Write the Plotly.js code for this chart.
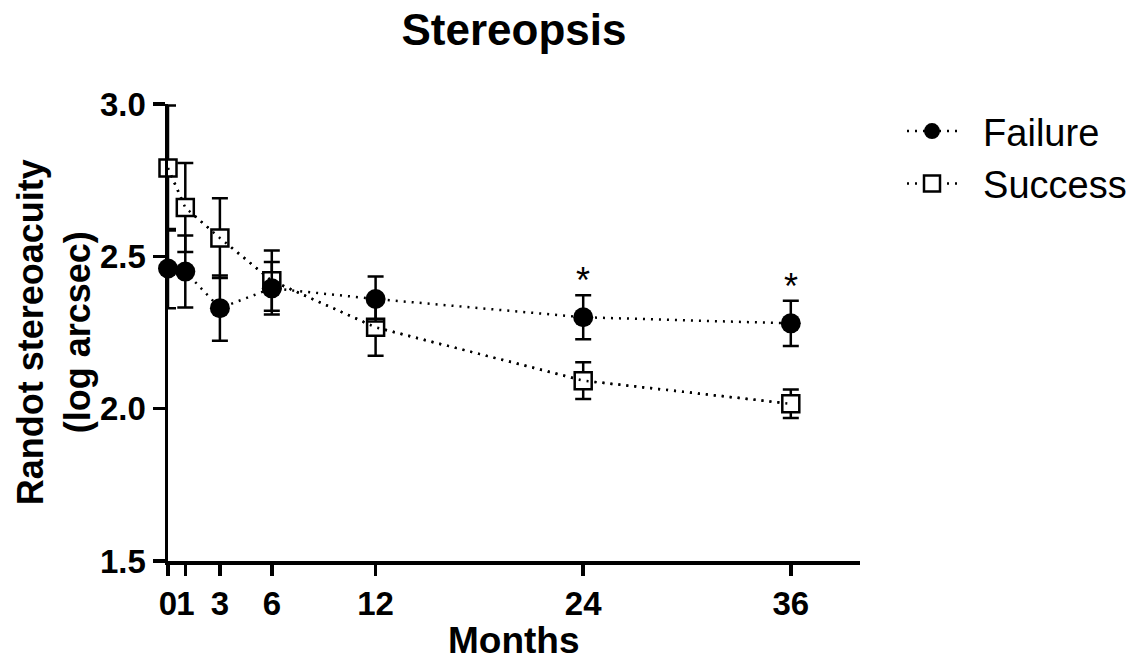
<!DOCTYPE html>
<html>
<head>
<meta charset="utf-8">
<script src="https://cdn.plot.ly/plotly-3.0.1.min.js"></script>
<style>
  html, body { margin: 0; padding: 0; background: #fff; }
  #chart { width: 1146px; height: 664px; }
</style>
</head>
<body>
<div id="chart"></div>
<script>
// ---- data ----
var months = [0, 1, 3, 6, 12, 24, 36];
var failureMean = [2.46, 2.45, 2.33, 2.395, 2.36, 2.30, 2.28];
var failureSem  = [0.13, 0.118, 0.107, 0.086, 0.074, 0.072, 0.074];
var successMean = [2.79, 2.66, 2.56, 2.42, 2.267, 2.092, 2.016];
var successSem  = [0.205, 0.146, 0.131, 0.099, 0.093, 0.060, 0.047];
var xTickVals = [0, 1, 3, 6, 12, 24, 36];
var xTickText = ['0', '1', '3', '6', '12', '24', '36'];
var yTickVals = [1.5, 2.0, 2.5, 3.0];
var yTickText = ['1.5', '2.0', '2.5', '3.0'];
var sigMonths = ['24', '36'];
var xTitle = 'Months';
var yTitle = 'Randot stereoacuity<br>(log arcsec)';

var FONT = 'Liberation Sans, Arial, Helvetica, sans-serif';
var dotted = '2px,6px';
var PAD = '\u00a0\u00a0';

var successTrace = {
  x: months, y: successMean, name: PAD + 'Success', type: 'scatter',
  mode: 'lines+markers', cliponaxis: false, legendrank: 2,
  line: { color: '#000', width: 2.5, dash: dotted },
  marker: { symbol: 'square', size: 17, color: '#fff', line: { color: '#000', width: 2.5 } },
  error_y: { type: 'data', array: successSem, visible: true, color: '#000', thickness: 2.5, width: 8 }
};
var successLineTop = {
  x: months, y: successMean, type: 'scatter', mode: 'lines', showlegend: false,
  cliponaxis: false, hoverinfo: 'skip',
  line: { color: '#000', width: 2.5, dash: dotted }
};
var failureTrace = {
  x: months, y: failureMean, name: PAD + 'Failure', type: 'scatter',
  mode: 'lines+markers', cliponaxis: false, legendrank: 1,
  line: { color: '#000', width: 2.5, dash: dotted },
  marker: { symbol: 'circle', size: 20, color: '#000' },
  error_y: { type: 'data', array: failureSem, visible: true, color: '#000', thickness: 2.5, width: 8 }
};

var annotations = sigMonths.map(function (m) {
  var i = months.indexOf(Number(m));
  return {
    x: months[i], y: failureMean[i] + failureSem[i], xref: 'x', yref: 'y',
    text: '*', showarrow: false, yanchor: 'bottom', yshift: -8,
    font: { family: FONT, size: 36, color: '#000' }
  };
});
// axis titles
annotations.push({
  text: '<b>' + xTitle + '</b>', xref: 'paper', yref: 'paper', x: 0.5, y: -0.175,
  xanchor: 'center', yanchor: 'middle', showarrow: false,
  font: { family: FONT, size: 37, color: '#000' }
});
annotations.push({
  text: '<b>' + yTitle + '</b>', xref: 'paper', yref: 'paper', x: -0.165, y: 0.5,
  xanchor: 'center', yanchor: 'middle', textangle: -90, showarrow: false,
  font: { family: FONT, size: 36, color: '#000' }
});

var layout = {
  width: 1146, height: 664,
  paper_bgcolor: '#fff', plot_bgcolor: '#fff',
  margin: { l: 168, r: 286, t: 104, b: 103 },
  font: { family: FONT, color: '#000' },
  title: {
    text: '<b>Stereopsis</b>', x: 0.5, xref: 'paper', xanchor: 'center',
    y: 0.955, yref: 'container', yanchor: 'middle',
    font: { family: FONT, size: 44, color: '#000' }
  },
  xaxis: {
    range: [0, 40], tickmode: 'array', tickvals: xTickVals, ticktext: xTickText,
    tickangle: 0, showgrid: false, zeroline: false,
    showline: true, linecolor: '#000', linewidth: 3.5,
    ticks: 'outside', ticklen: 11, tickwidth: 3.5, tickcolor: '#000',
    tickfont: { family: FONT, size: 33, color: '#000', weight: 'bold' },
    automargin: false
  },
  yaxis: {
    range: [1.5, 3.0], tickmode: 'array', tickvals: yTickVals, ticktext: yTickText,
    showgrid: false, zeroline: false,
    showline: true, linecolor: '#000', linewidth: 3.5,
    ticks: 'outside', ticklen: 12, tickwidth: 3.5, tickcolor: '#000',
    tickfont: { family: FONT, size: 33, color: '#000', weight: 'bold' },
    automargin: false
  },
  legend: {
    x: 1.0607, xref: 'paper', xanchor: 'left', y: 1.009, yref: 'paper', yanchor: 'top',
    font: { family: FONT, size: 38, color: '#000' }, tracegroupgap: 0,
    itemwidth: 50, bgcolor: 'rgba(0,0,0,0)'
  },
  annotations: annotations,
  showlegend: true
};

Plotly.newPlot('chart', [successTrace, successLineTop, failureTrace], layout, { displayModeBar: false, staticPlot: true });
</script>
</body>
</html>
